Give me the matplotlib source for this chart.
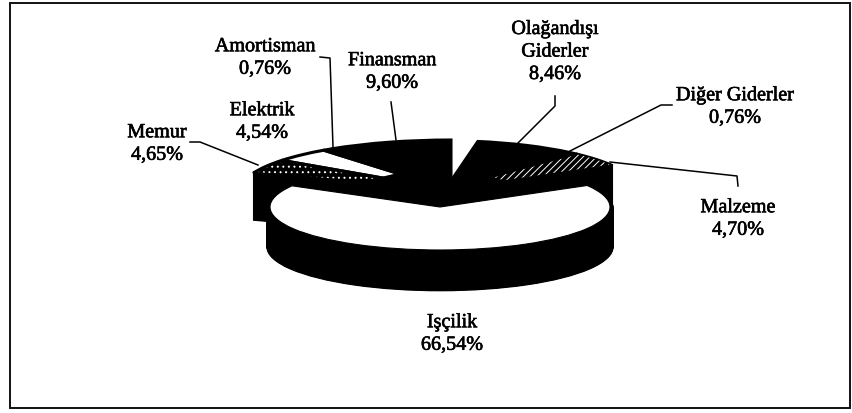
import matplotlib
matplotlib.use("Agg")
import matplotlib.pyplot as plt
import matplotlib.patheffects as pe
from matplotlib.patches import Rectangle

W, H = 853, 413
labels = ["Malzeme", "Diğer Giderler", "Olağandışı\nGiderler", "Finansman",
          "Amortisman", "Elektrik", "Memur", "Işçilik"]
values = [4.70, 0.76, 8.46, 9.60, 0.76, 4.54, 4.65, 66.54]
right_group = values[:3]
left_group = values[3:7]
main_group = values[7:]
pct = [f"{v:.2f}%".replace(".", ",") for v in values]

plt.rcParams["font.family"] = ["Liberation Serif", "DejaVu Serif"]
plt.rcParams["hatch.linewidth"] = 0.7
fig = plt.figure(figsize=(W / 100, H / 100), dpi=100, facecolor="white")


def pie_axes(cx, cy, a, b, z):
    ax = fig.add_axes([(cx - a) / W, 1 - (cy + b) / H, 2 * a / W, 2 * b / H], zorder=z)
    ax.patch.set_alpha(0)
    return ax


def one_pie(ax, vals, start, colors, d=0.0, r=1.0, **wp):
    w, _ = ax.pie([v / 100 for v in vals], normalize=False, startangle=start,
                  center=(0, -d), radius=r, colors=colors,
                  wedgeprops=dict(clip_on=False, **wp))
    return w


def finish(ax):
    ax.set_aspect("auto")
    ax.set_xlim(-1, 1)
    ax.set_ylim(-1, 1)
    ax.axis("off")


def draw_pie(ax, vals, start, colors, hatches, depth, inner, outline, body_r=1.0):
    n = 60
    k = ["black"] * len(vals)
    for i in range(n, 0, -1):
        one_pie(ax, vals, start, k, d=depth * i / n, r=body_r, edgecolor="black", linewidth=0.8)
    w = one_pie(ax, vals, start, colors, edgecolor="black", linewidth=0)
    for wedge, h in zip(w, hatches):
        if h:
            wedge.set_hatch(h)
            wedge.set_edgecolor("white")
    if inner:
        one_pie(ax, vals, start, k, r=inner, edgecolor="black", linewidth=0)
    for wedge in one_pie(ax, vals, start, k, edgecolor="black", linewidth=outline):
        wedge.set_facecolor("none")
        wedge.set_joinstyle("miter")
    finish(ax)


# rear slices, pulled away from the main slice
back = pie_axes(444, 190, 195, 50, 1)
draw_pie(back, right_group, 30, ["black"] * 3, ["/////", None, None], 0.94, 0.36, 1.2)
back2 = pie_axes(451, 190, 210, 50, 1.1)
draw_pie(back2, left_group, 90, ["black", "black", "white", "black"],
         [None, None, None, "..."], 0.94, 0.42, 2.2)

# main slice
front = pie_axes(440, 207, 170, 43, 2)
draw_pie(front, main_group, 150.5, ["white"], [None], 40 / 43, None, 0.8, body_r=1.018)

# overlay in pixel coordinates
ov = fig.add_axes([0, 0, 1, 1], zorder=5)
ov.set_xlim(0, W)
ov.set_ylim(H, 0)
ov.axis("off")
ov.patch.set_alpha(0)
ov.add_patch(Rectangle((10, 3), 840, 405, fill=False, ec="#111111", lw=1.4))

label_xy = [(738, 219), (735, 107), (555, 52), (392, 72), (265, 58), (262, 122), (157, 144), (452, 334)]
stroke = [pe.withStroke(linewidth=0.45, foreground="black")]
for name, p, (x, y) in zip(labels, pct, label_xy):
    ov.text(x, y, f"{name}\n{p}", ha="center", va="center", fontsize=14.5,
            linespacing=1.25, color="black", path_effects=stroke)

leaders = [
    ([738, 737, 610], [186, 176, 162]),
    ([672, 661, 570], [105, 105, 151]),
    ([555, 555, 518], [96, 106, 143]),
    ([391, 396], [102, 140]),
    ([320, 330, 333], [57, 58, 147]),
    ([190, 200, 258], [142, 142, 165]),
]
for xs, ys in leaders:
    ov.plot(xs, ys, color="black", lw=1.1)

fig.savefig("out.png", dpi=100)
